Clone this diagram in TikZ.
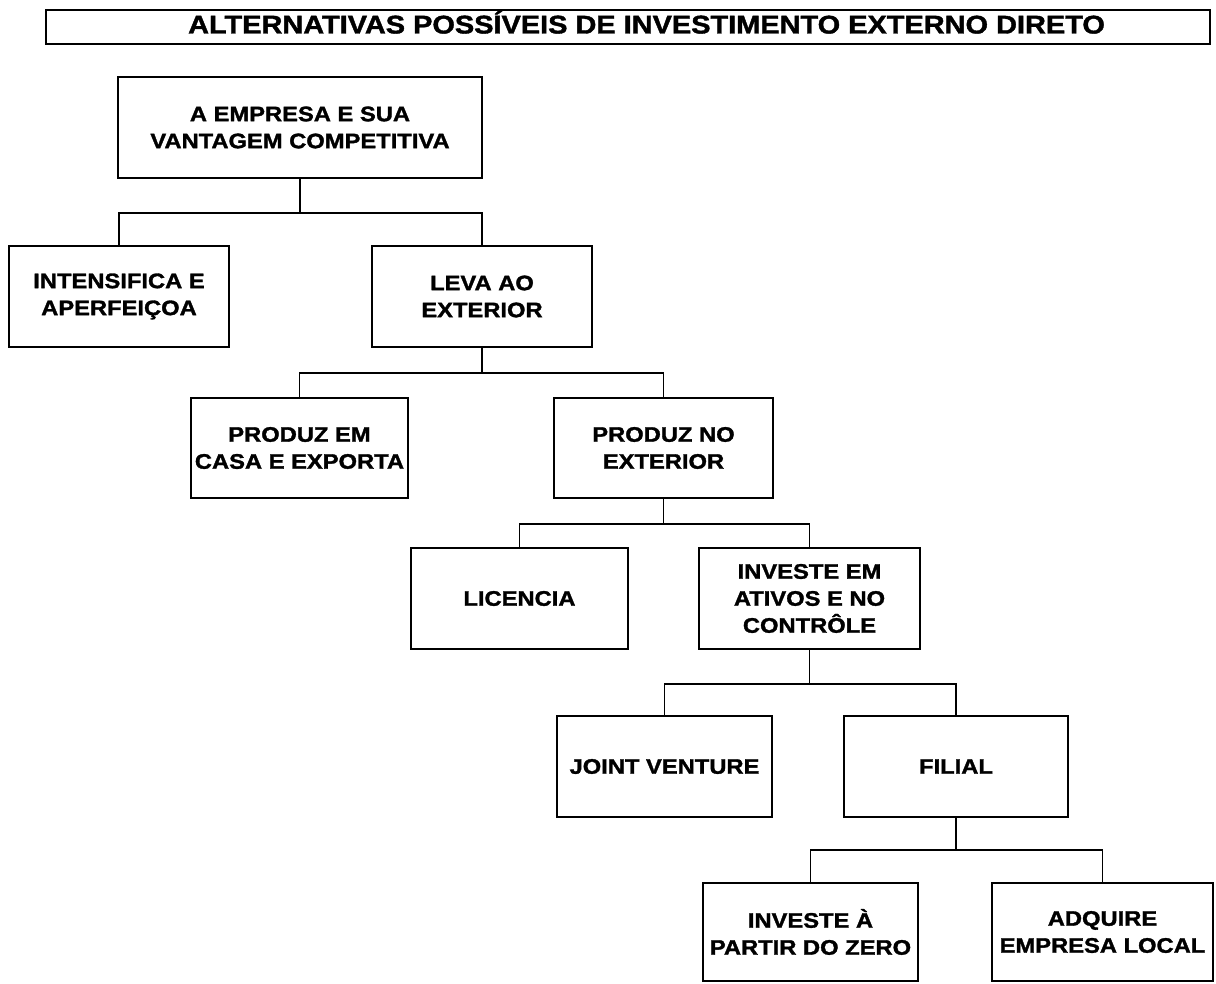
\documentclass[tikz,border=0pt]{standalone}
\usepackage{fontspec}
\setmainfont{Liberation Sans}[FakeStretch=1.13, BoldFeatures={FakeBold=1.5}]
\begin{document}
\begin{tikzpicture}[x=1pt,y=-1pt,
  box/.style={draw, line width=2.7pt, rectangle, inner sep=0pt, align=center,
    font=\bfseries\fontsize{21pt}{27pt}\selectfont},
  conn/.style={draw, line width=1.8pt}]
\useasboundingbox (0,0) rectangle (1216,984);

% title bar
\node[draw, line width=2.6pt, inner sep=0pt, minimum width=1164pt, minimum height=34pt] (title) at (628,27) {};
\node[anchor=base, inner sep=0pt, font=\bfseries\fontsize{25.6pt}{30pt}\selectfont] (titletext) at (646.5,33.5)
  {ALTERNATIVAS POSSÍVEIS DE INVESTIMENTO EXTERNO DIRETO};

% decision boxes
\node[box, minimum width=364pt, minimum height=101pt] (b1) at (300,127.5) {A EMPRESA E SUA\\VANTAGEM COMPETITIVA};
\node[box, minimum width=220pt, minimum height=101pt] (b2) at (119,296.5) {INTENSIFICA E\\APERFEIÇOA};
\node[box, minimum width=220pt, minimum height=101pt] (b3) at (482,296.5) {LEVA AO\\EXTERIOR};
\node[box, minimum width=217pt, minimum height=100pt] (b4) at (299.5,448) {PRODUZ EM\\CASA E EXPORTA};
\node[box, minimum width=219pt, minimum height=100pt] (b5) at (663.5,448) {PRODUZ NO\\EXTERIOR};
\node[box, minimum width=217pt, minimum height=101pt] (b6) at (519.5,598.5) {LICENCIA};
\node[box, minimum width=221pt, minimum height=101pt] (b7) at (809.5,598.5) {INVESTE EM\\ATIVOS E NO\\CONTRÔLE};
\node[box, minimum width=215pt, minimum height=101pt] (b8) at (664.5,766.5) {JOINT VENTURE};
\node[box, minimum width=224pt, minimum height=101pt] (b9) at (956,766.5) {FILIAL};
\node[box, minimum width=215pt, minimum height=98pt] (b10) at (810.5,932) {INVESTE À\\PARTIR DO ZERO};
\node[box, minimum width=221pt, minimum height=98pt] (b11) at (1102.5,932) {ADQUIRE\\EMPRESA LOCAL};

% tree connectors
\draw[conn] (b1.south) -- ++(0,34) -| (b2.north);
\draw[conn] (b1.south) -- ++(0,34) -| (b3.north);
\draw[conn] (b3.south) -- ++(0,25) -| (b4.north);
\draw[conn] (b3.south) -- ++(0,25) -| (b5.north);
\draw[conn] (b5.south) -- ++(0,25) -| (b6.north);
\draw[conn] (b5.south) -- ++(0,25) -| (b7.north);
\draw[conn] (b7.south) -- ++(0,34) -| (b8.north);
\draw[conn] (b7.south) -- ++(0,34) -| (b9.north);
\draw[conn] (b9.south) -- ++(0,32) -| (b10.north);
\draw[conn] (b9.south) -- ++(0,32) -| (b11.north);
\end{tikzpicture}
\end{document}
